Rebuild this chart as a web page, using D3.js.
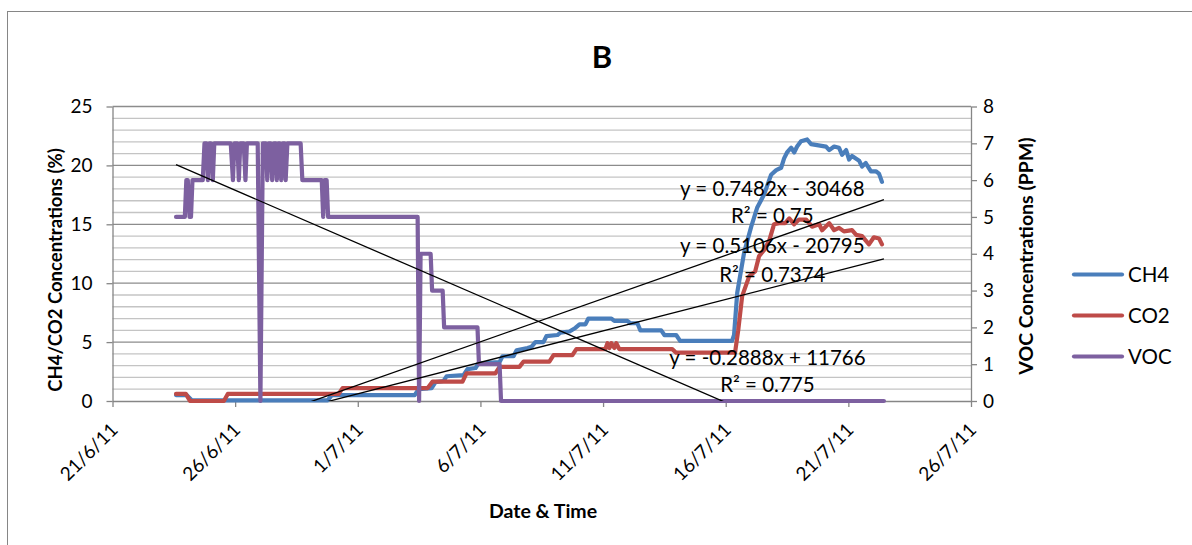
<!DOCTYPE html>
<html>
<head>
<meta charset="utf-8">
<script src="https://cdnjs.cloudflare.com/ajax/libs/d3/7.8.5/d3.min.js"></script>
<style>
  body { margin: 0; background: #fff; }
  svg { display: block; font-family: Lato, "Open Sans", sans-serif; }
</style>
</head>
<body>
<div class="vis"></div>
<script>
// frame dimensions
const FRAME_WIDTH = 1192;
const FRAME_HEIGHT = 545;
const MARGINS = {left: 112.5, right: 221, top: 106.5, bottom: 144};
const VIS_WIDTH = FRAME_WIDTH - MARGINS.left - MARGINS.right;
const VIS_HEIGHT = FRAME_HEIGHT - MARGINS.top - MARGINS.bottom;

// x values are days after 21/6/11 00:00
const START = new Date(2011, 5, 21);

const xTickLabels = ['21/6/11', '26/6/11', '1/7/11', '6/7/11', '11/7/11', '16/7/11', '21/7/11', '26/7/11'];
const leftTicks = [0, 5, 10, 15, 20, 25];
const rightTicks = [0, 1, 2, 3, 4, 5, 6, 7, 8];

const seriesNames = ['CH4', 'CO2', 'VOC'];
const seriesColors = ['#4a7ebb', '#be4b48', '#7d60a0'];

// CH4 (%), left axis
const ch4 = [
  [2.59,0.5],[3.03,0.5],[3.24,0.05],[8.77,0.05],[8.94,0.5],[12.32,0.5],[12.48,1.0],[13.01,1.1],
  [13.17,1.6],[13.50,1.7],[13.62,2.1],[14.31,2.2],[14.47,2.7],[14.80,2.8],[14.92,3.2],[15.78,3.3],
  [15.90,3.8],[16.35,3.8],[16.47,4.3],[16.92,4.5],[17.08,4.6],[17.24,5.0],[17.57,5.0],[17.69,5.5],
  [18.14,5.6],[18.26,5.8],[18.63,5.9],[18.87,6.2],[19.04,6.5],[19.28,6.5],[19.40,7.0],[20.34,7.0],
  [20.46,6.8],[20.99,6.8],[21.11,6.6],[21.40,6.6],[21.52,6.0],[22.37,6.0],[22.50,5.6],[22.98,5.6],
  [23.14,5.1],[25.26,5.1],[25.34,5.6],[25.47,9.2],[25.75,12.6],[26.04,14.8],[26.28,16.4],[26.56,17.5],
  [26.85,19.2],[27.06,19.6],[27.26,19.8],[27.38,20.6],[27.50,21.1],[27.67,21.5],[27.79,21.1],[27.91,21.6],
  [28.07,22.05],[28.32,22.2],[28.48,21.8],[29.09,21.6],[29.22,21.3],[29.42,21.6],[29.62,21.5],[29.74,20.9],
  [29.91,21.3],[30.03,20.5],[30.15,20.8],[30.44,20.4],[30.56,19.9],[30.71,20.2],[30.92,19.5],[31.12,19.5],
  [31.25,19.3],[31.37,18.6]
];

// CO2 (%), left axis
const co2 = [
  [2.59,0.6],[2.99,0.6],[3.16,0.0],[4.54,0.0],[4.70,0.6],[9.22,0.6],[9.38,1.1],[12.85,1.1],
  [13.05,1.65],[14.27,1.65],[14.43,2.35],[15.61,2.35],[15.78,2.9],[16.59,2.9],[16.76,3.35],[17.81,3.35],
  [17.98,3.9],[18.75,3.9],[18.91,4.4],[20.09,4.4],[20.18,4.9],[20.26,4.5],[20.34,4.9],[20.46,4.5],
  [20.54,4.9],[20.66,4.4],[22.82,4.4],[22.98,4.1],[25.38,4.1],[25.51,6.0],[25.67,8.9],[25.96,10.6],
  [26.20,11.0],[26.36,12.3],[26.56,12.8],[26.77,13.6],[26.97,15.0],[27.18,15.1],[27.42,15.1],[27.59,15.5],
  [27.79,15.0],[27.99,15.4],[28.28,15.4],[28.52,14.8],[28.81,15.0],[28.93,14.5],[29.22,15.1],[29.42,14.5],
  [29.62,14.7],[29.82,14.4],[30.15,14.5],[30.32,14.1],[30.56,14.0],[30.84,13.3],[31.04,13.9],[31.25,13.8],
  [31.37,13.3]
];

// VOC (PPM), right axis
const voc = [
  [2.59,5],[2.95,5],[3.01,6],[3.07,6],[3.14,5],[3.20,5],[3.26,6],[3.68,6],[3.75,7],[3.83,7],[3.89,6],
  [3.95,7],[4.01,7],[4.09,6],[4.15,7],[4.82,7],[4.91,6],[4.97,7],[5.09,7],[5.15,6],[5.21,7],[5.35,7],
  [5.42,6],[5.48,7],[5.92,7],[6.03,0],[6.13,7],[6.25,7],[6.31,6],[6.37,7],[6.45,7],[6.51,6],[6.58,7],
  [6.66,7],[6.70,6],[6.76,7],[6.82,7],[6.88,6],[6.94,7],[7.02,7],[7.06,6],[7.13,7],[7.67,7],[7.74,6],
  [8.53,6],[8.59,5],[8.65,6],[8.73,6],[8.79,5],[12.44,5],[12.50,0],[12.56,4],[12.97,4],[13.03,3],
  [13.46,3],[13.52,2],[14.88,2],[14.94,1],[15.78,1],[15.84,0],[31.45,0]
];

// linear trendlines, end points
const ch4Trend = [[2.59,-4.09],[31.45,17.1]];
const co2Trend = [[2.59,-3.35],[31.45,12.07]];
const vocTrend = [[2.59,6.42],[31.45,-1.90]];

const trendEquations = ['y = 0.7482x - 30468', 'y = 0.5106x - 20795', 'y = -0.2888x + 11766'];
const trendR2 = ['R² = 0.75', 'R² = 0.7374', 'R² = 0.775'];

const dayToDate = (d) => new Date(START.getTime() + d * 86400000);
const parseTick = d3.timeParse('%d/%m/%y');

const FRAME = d3.select('.vis')
  .append('svg')
    .attr('width', FRAME_WIDTH)
    .attr('height', FRAME_HEIGHT);

// chart border
FRAME.append('rect')
  .attr('x', 7.5).attr('y', 11.5)
  .attr('width', 1300).attr('height', 600)
  .attr('fill', 'none').attr('stroke', '#868686');

const PLOT = FRAME.append('g')
  .attr('transform', 'translate(' + MARGINS.left + ',' + MARGINS.top + ')');

// scales
const xscale = d3.scaleTime()
  .domain([parseTick(xTickLabels[0]), parseTick(xTickLabels[xTickLabels.length - 1])])
  .range([0, VIS_WIDTH]);
const yleft = d3.scaleLinear().domain([0, 25]).range([VIS_HEIGHT, 0]);
const yright = d3.scaleLinear().domain([0, 8]).range([VIS_HEIGHT, 0]);

// gridlines (minor every 1, major every 5)
PLOT.append('g').selectAll('line')
  .data(d3.range(1, 25).filter((v) => v % 5 !== 0))
  .enter().append('line')
    .attr('x1', 0).attr('x2', VIS_WIDTH)
    .attr('y1', (d) => yleft(d)).attr('y2', (d) => yleft(d))
    .attr('stroke', '#c4c4c4').attr('stroke-width', 1.3);
PLOT.append('g').selectAll('line')
  .data(leftTicks.filter((v) => v > 0))
  .enter().append('line')
    .attr('x1', 0).attr('x2', VIS_WIDTH)
    .attr('y1', (d) => yleft(d)).attr('y2', (d) => yleft(d))
    .attr('stroke', '#8c8c8c').attr('stroke-width', 1.3);

// axes
function styleAxis(g) {
  g.selectAll('path.domain').attr('stroke', '#868686').attr('stroke-width', 1.3);
  g.selectAll('.tick line').attr('stroke', '#868686').attr('stroke-width', 1.3);
  g.selectAll('text').attr('fill', '#000').attr('font-size', '19px')
    .attr('font-family', 'Lato, sans-serif');
}

const gx = PLOT.append('g')
  .attr('transform', 'translate(0,' + VIS_HEIGHT + ')')
  .call(d3.axisBottom(xscale)
    .tickValues(xTickLabels.map(parseTick))
    .tickFormat((d, i) => xTickLabels[i])
    .tickSize(6).tickSizeOuter(0));
styleAxis(gx);
gx.selectAll('.tick text')
  .attr('text-anchor', 'end')
  .attr('y', 0).attr('dy', 0)
  .attr('transform', 'translate(6,30) rotate(-45)');

const gl = PLOT.append('g')
  .call(d3.axisLeft(yleft).tickValues(leftTicks).tickSize(6).tickPadding(14).tickSizeOuter(0));
styleAxis(gl);

const gr = PLOT.append('g')
  .attr('transform', 'translate(' + VIS_WIDTH + ',0)')
  .call(d3.axisRight(yright).tickValues(rightTicks).tickSize(6).tickPadding(6).tickSizeOuter(0));
styleAxis(gr);

// series
const lineLeft = d3.line()
  .x((d) => xscale(dayToDate(d[0])))
  .y((d) => yleft(d[1]));
const lineRight = d3.line()
  .x((d) => xscale(dayToDate(d[0])))
  .y((d) => yright(d[1]));

const seriesData = [
  {data: ch4, line: lineLeft},
  {data: co2, line: lineLeft},
  {data: voc, line: lineRight}
];

PLOT.selectAll('.series')
  .data(seriesData)
  .enter().append('path')
    .attr('class', 'series')
    .attr('d', (d) => d.line(d.data))
    .attr('fill', 'none')
    .attr('stroke', (d, i) => seriesColors[i])
    .attr('stroke-width', 4.2)
    .attr('stroke-linejoin', 'round')
    .attr('stroke-linecap', 'round');

// trendlines, clipped to the plot area
PLOT.append('clipPath').attr('id', 'clip')
  .append('rect').attr('width', VIS_WIDTH).attr('height', VIS_HEIGHT);

const trends = [
  {data: ch4Trend, line: lineLeft},
  {data: co2Trend, line: lineLeft},
  {data: vocTrend, line: lineRight}
];
PLOT.append('g').attr('clip-path', 'url(#clip)')
  .selectAll('path')
  .data(trends)
  .enter().append('path')
    .attr('d', (d) => d.line(d.data))
    .attr('fill', 'none')
    .attr('stroke', '#000')
    .attr('stroke-width', 1.3);

// trendline labels (centre day, baseline values on the left axis)
const labelPos = [
  {day: 26.9, eq: 17.4, r2: 15.1},
  {day: 26.9, eq: 12.6, r2: 10.1},
  {day: 26.7, eq: 3.05, r2: 0.77}
];
labelPos.forEach((p, i) => {
  PLOT.append('text')
    .attr('x', xscale(dayToDate(p.day))).attr('y', yleft(p.eq))
    .attr('text-anchor', 'middle').attr('font-size', '20.5px')
    .text(trendEquations[i]);
  PLOT.append('text')
    .attr('x', xscale(dayToDate(p.day))).attr('y', yleft(p.r2))
    .attr('text-anchor', 'middle').attr('font-size', '20.5px')
    .text(trendR2[i]);
});

// titles
FRAME.append('text')
  .attr('x', 602).attr('y', 68)
  .attr('text-anchor', 'middle')
  .attr('font-weight', 'bold').attr('font-size', '31px')
  .text('B');

FRAME.append('text')
  .attr('transform', 'translate(62,270) rotate(-90)')
  .attr('text-anchor', 'middle')
  .attr('font-weight', 'bold').attr('font-size', '18.5px')
  .text('CH4/CO2 Concentrations (%)');

FRAME.append('text')
  .attr('transform', 'translate(1033,256) rotate(-90)')
  .attr('text-anchor', 'middle')
  .attr('font-weight', 'bold').attr('font-size', '19.5px')
  .text('VOC Concentrations (PPM)');

FRAME.append('text')
  .attr('x', 543).attr('y', 518)
  .attr('text-anchor', 'middle')
  .attr('font-weight', 'bold').attr('font-size', '19.5px')
  .text('Date & Time');

// legend
const LEGEND = FRAME.append('g').attr('transform', 'translate(1074,274.5)');
seriesNames.forEach((name, i) => {
  LEGEND.append('line')
    .attr('x1', 0).attr('x2', 48)
    .attr('y1', i * 41).attr('y2', i * 41)
    .attr('stroke', seriesColors[i]).attr('stroke-width', 4.2)
    .attr('stroke-linecap', 'round');
  LEGEND.append('text')
    .attr('x', 54).attr('y', i * 41 + 7.5)
    .attr('font-size', '20.5px')
    .text(name);
});
</script>
</body>
</html>
